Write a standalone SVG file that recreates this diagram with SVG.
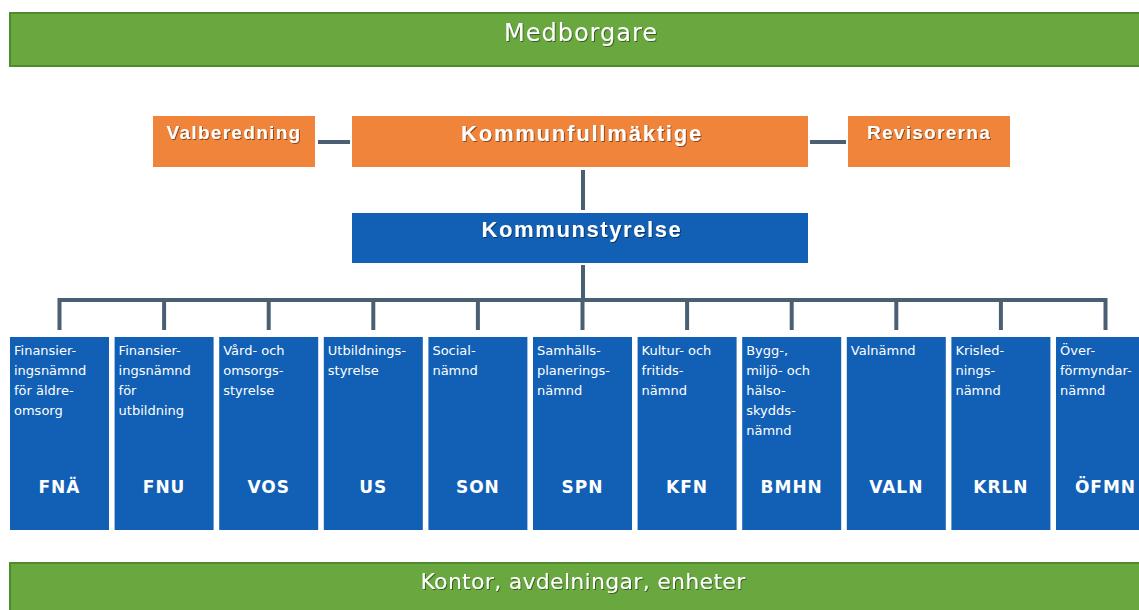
<svg xmlns="http://www.w3.org/2000/svg" width="1139" height="610" viewBox="0 0 1139 610">
<defs>
<style>
.band{fill:#68a83f;stroke:#4f8a2c;stroke-width:2}
.org{fill:#f0843a}
.blue{fill:#1160b6}
.col{fill:#1160b6}
.conn{stroke:#4b5f73;stroke-width:4;fill:none}
.bandtxt{font-family:"DejaVu Sans",Verdana,sans-serif;fill:#fff;text-anchor:middle}
.head{font-family:"Liberation Sans",Arial,sans-serif;font-weight:bold;fill:#fff;text-anchor:middle}
.lbl{font-family:"DejaVu Sans",Verdana,sans-serif;font-size:13px;fill:#fff}
.abbr{font-family:"DejaVu Sans",Verdana,sans-serif;font-weight:bold;font-size:17px;fill:#fff;text-anchor:middle;letter-spacing:1px}
</style>
<filter id="sh" x="-10%" y="-30%" width="120%" height="160%">
<feDropShadow dx="1" dy="1" stdDeviation="0.6" flood-color="#000" flood-opacity="0.45"/>
</filter>
</defs>
<rect width="1139" height="610" fill="#ffffff"/>

<g id="medborgare">
<rect class="band" x="10" y="13" width="1135" height="53"/>
<text class="bandtxt" x="581" y="41" font-size="24" letter-spacing="1" filter="url(#sh)">Medborgare</text>
</g>

<g id="connectors">
<line class="conn" x1="318" y1="142" x2="350" y2="142"/>
<line class="conn" x1="810" y1="142" x2="846" y2="142"/>
<line class="conn" x1="583" y1="170" x2="583" y2="210"/>
<line class="conn" x1="583" y1="265" x2="583" y2="300"/>
<path class="conn" d="M59.5 330 V300 H1105.5 V330"/>
<line class="conn" x1="164.1" y1="300" x2="164.1" y2="330"/>
<line class="conn" x1="268.7" y1="300" x2="268.7" y2="330"/>
<line class="conn" x1="373.3" y1="300" x2="373.3" y2="330"/>
<line class="conn" x1="477.9" y1="300" x2="477.9" y2="330"/>
<line class="conn" x1="582.5" y1="300" x2="582.5" y2="330"/>
<line class="conn" x1="687.1" y1="300" x2="687.1" y2="330"/>
<line class="conn" x1="791.7" y1="300" x2="791.7" y2="330"/>
<line class="conn" x1="896.3" y1="300" x2="896.3" y2="330"/>
<line class="conn" x1="1000.9" y1="300" x2="1000.9" y2="330"/>
</g>

<g id="valberedning">
<rect class="org" x="153" y="116" width="162" height="51"/>
<text class="head" x="234" y="139" font-size="19" letter-spacing="1.3" filter="url(#sh)">Valberedning</text>
</g>
<g id="kommunfullmaktige">
<rect class="org" x="352" y="116" width="456" height="51"/>
<text class="head" x="582" y="141" font-size="22" letter-spacing="1.8" filter="url(#sh)">Kommunfullmäktige</text>
</g>
<g id="revisorerna">
<rect class="org" x="848" y="116" width="162" height="51"/>
<text class="head" x="929" y="139" font-size="19" letter-spacing="1.3" filter="url(#sh)">Revisorerna</text>
</g>
<g id="kommunstyrelse">
<rect class="blue" x="352" y="213" width="456" height="50"/>
<text class="head" x="582" y="237" font-size="22" letter-spacing="1.6" filter="url(#sh)">Kommunstyrelse</text>
</g>

<g id="fna">
<rect class="col" x="10" y="337" width="99" height="193"/>
<text class="lbl" x="14" y="355">Finansier-</text>
<text class="lbl" x="14" y="375">ingsnämnd</text>
<text class="lbl" x="14" y="395">för äldre-</text>
<text class="lbl" x="14" y="415">omsorg</text>
<text class="abbr" x="59.5" y="493">FNÄ</text>
</g>
<g id="fnu">
<rect class="col" x="114.6" y="337" width="99" height="193"/>
<text class="lbl" x="118.6" y="355">Finansier-</text>
<text class="lbl" x="118.6" y="375">ingsnämnd</text>
<text class="lbl" x="118.6" y="395">för</text>
<text class="lbl" x="118.6" y="415">utbildning</text>
<text class="abbr" x="164.1" y="493">FNU</text>
</g>
<g id="vos">
<rect class="col" x="219.2" y="337" width="99" height="193"/>
<text class="lbl" x="223.2" y="355">Vård- och</text>
<text class="lbl" x="223.2" y="375">omsorgs-</text>
<text class="lbl" x="223.2" y="395">styrelse</text>
<text class="abbr" x="268.7" y="493">VOS</text>
</g>
<g id="us">
<rect class="col" x="323.8" y="337" width="99" height="193"/>
<text class="lbl" x="327.8" y="355">Utbildnings-</text>
<text class="lbl" x="327.8" y="375">styrelse</text>
<text class="abbr" x="373.3" y="493">US</text>
</g>
<g id="son">
<rect class="col" x="428.4" y="337" width="99" height="193"/>
<text class="lbl" x="432.4" y="355">Social-</text>
<text class="lbl" x="432.4" y="375">nämnd</text>
<text class="abbr" x="477.9" y="493">SON</text>
</g>
<g id="spn">
<rect class="col" x="533" y="337" width="99" height="193"/>
<text class="lbl" x="537" y="355">Samhälls-</text>
<text class="lbl" x="537" y="375">planerings-</text>
<text class="lbl" x="537" y="395">nämnd</text>
<text class="abbr" x="582.5" y="493">SPN</text>
</g>
<g id="kfn">
<rect class="col" x="637.6" y="337" width="99" height="193"/>
<text class="lbl" x="641.6" y="355">Kultur- och</text>
<text class="lbl" x="641.6" y="375">fritids-</text>
<text class="lbl" x="641.6" y="395">nämnd</text>
<text class="abbr" x="687.1" y="493">KFN</text>
</g>
<g id="bmhn">
<rect class="col" x="742.2" y="337" width="99" height="193"/>
<text class="lbl" x="746.2" y="355">Bygg-,</text>
<text class="lbl" x="746.2" y="375">miljö- och</text>
<text class="lbl" x="746.2" y="395">hälso-</text>
<text class="lbl" x="746.2" y="415">skydds-</text>
<text class="lbl" x="746.2" y="435">nämnd</text>
<text class="abbr" x="791.7" y="493">BMHN</text>
</g>
<g id="valn">
<rect class="col" x="846.8" y="337" width="99" height="193"/>
<text class="lbl" x="850.8" y="355">Valnämnd</text>
<text class="abbr" x="896.3" y="493">VALN</text>
</g>
<g id="krln">
<rect class="col" x="951.4" y="337" width="99" height="193"/>
<text class="lbl" x="955.4" y="355">Krisled-</text>
<text class="lbl" x="955.4" y="375">nings-</text>
<text class="lbl" x="955.4" y="395">nämnd</text>
<text class="abbr" x="1000.9" y="493">KRLN</text>
</g>
<g id="ofmn">
<rect class="col" x="1056" y="337" width="99" height="193"/>
<text class="lbl" x="1060" y="355">Över-</text>
<text class="lbl" x="1060" y="375">förmyndar-</text>
<text class="lbl" x="1060" y="395">nämnd</text>
<text class="abbr" x="1105.5" y="493">ÖFMN</text>
</g>

<g id="kontor">
<rect class="band" x="10" y="563" width="1135" height="52"/>
<text class="bandtxt" x="583" y="589" font-size="22" letter-spacing="0.3" filter="url(#sh)">Kontor, avdelningar, enheter</text>
</g>
</svg>
